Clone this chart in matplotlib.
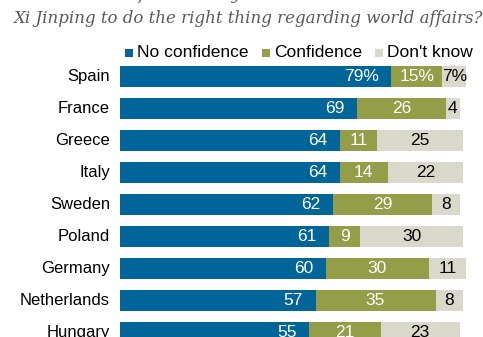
import matplotlib
matplotlib.use("Agg")
import matplotlib.pyplot as plt
from matplotlib.patches import Rectangle

countries = ["Spain", "France", "Greece", "Italy", "Sweden", "Poland",
             "Germany", "Netherlands", "Hungary"]
no_conf = [79, 69, 64, 64, 62, 61, 60, 57, 55]
conf = [15, 26, 11, 14, 29, 9, 30, 35, 21]
dont_know = [7, 4, 25, 22, 8, 30, 11, 8, 23]
series_names = ["No confidence", "Confidence", "Don't know"]

BLUE = "#01659A"
GREEN = "#949D48"
GRAY = "#DAD7CB"

W, H = 483, 337
fig = plt.figure(figsize=(W / 100, H / 100), dpi=100)

# axes geometry in pixels
x0, px_per_unit = 120, 3.43
xmax = 101
ytop, ybot = 60.5, 337
ax = fig.add_axes([x0 / W, 1 - ybot / H, xmax * px_per_unit / W, (ybot - ytop) / H])
ax.set_xlim(0, xmax)
row_px = 32
first_center = 76.5
ax.set_ylim((ybot - first_center) / row_px, -(first_center - ytop) / row_px)
ax.axis("off")

FONT = "Liberation Sans"
fs_val = 12.5
fs_cat = 12
bh = 0.66
for i, (c, a, b, d) in enumerate(zip(countries, no_conf, conf, dont_know)):
    ax.barh(i, a, left=0, height=bh, color=BLUE, linewidth=0)
    ax.barh(i, b, left=a, height=bh, color=GREEN, linewidth=0)
    ax.barh(i, d, left=a + b, height=bh, color=GRAY, linewidth=0)
    suf = "%" if i == 0 else ""
    ax.text(a - 3.6, i, f"{a}{suf}", color="white", ha="right", va="center",
            fontsize=fs_val, family=FONT)
    ax.text(a + b / 2, i, f"{b}{suf}", color="white", ha="center", va="center",
            fontsize=fs_val, family=FONT)
    ax.text(a + b + d / 2, i, f"{d}{suf}", color="black", ha="center", va="center",
            fontsize=fs_val, family=FONT)
    ax.text(-10 / px_per_unit, i, c, color="black", ha="right", va="center",
            fontsize=fs_cat, family=FONT)

# title (top line is cut off by the crop)
fig.text(13 / W, 1 + 1 / H,
         "How much confidence do you have in Chinese President",
         ha="left", va="baseline", fontsize=12, style="italic",
         family="DejaVu Serif", color="#5a5a5a")
fig.text(13 / W, 1 - 23 / H,
         "Xi Jinping to do the right thing regarding world affairs?",
         ha="left", va="baseline", fontsize=12, style="italic",
         family="DejaVu Serif", color="#5a5a5a")

# legend
leg_items = [(125, BLUE), (262, GREEN), (375, GRAY)]
for (lx, col), name in zip(leg_items, series_names):
    fig.add_artist(Rectangle((lx / W, 1 - 57 / H), 8 / W, 8 / H,
                             transform=fig.transFigure, color=col, lw=0))
    fig.text((lx + 12) / W, 1 - 52.5 / H, name, ha="left", va="center",
             fontsize=fs_val, family=FONT, color="black")

fig.savefig("out.png", dpi=100)
